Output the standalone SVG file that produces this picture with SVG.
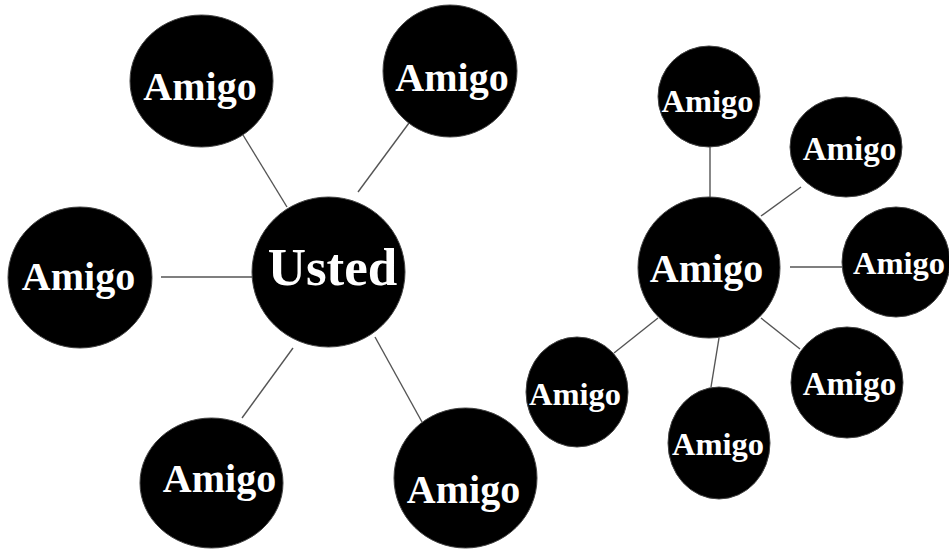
<svg xmlns="http://www.w3.org/2000/svg" width="949" height="550" viewBox="0 0 949 550">
<style>
.n{fill:#000;stroke:#444;stroke-width:1}
.t{fill:#fff;font-family:"Liberation Serif","Times New Roman",serif;font-weight:bold;text-anchor:middle}
.c line{stroke:#555;stroke-width:1.4}
</style>
<rect width="949" height="550" fill="#fff"/>
<g class="c" id="connectors">
<line x1="243" y1="135" x2="287" y2="207"/>
<line x1="409" y1="123" x2="358" y2="192"/>
<line x1="161" y1="277" x2="253" y2="277"/>
<line x1="293" y1="348" x2="242" y2="418"/>
<line x1="375" y1="337" x2="422" y2="422"/>
<line x1="710" y1="147" x2="710" y2="197"/>
<line x1="801" y1="187" x2="761" y2="216"/>
<line x1="790" y1="267" x2="842" y2="267"/>
<line x1="658" y1="318" x2="614" y2="353"/>
<line x1="719" y1="338" x2="711" y2="387"/>
<line x1="761" y1="318" x2="800" y2="349"/>
</g>
<g id="usted"><ellipse class="n" cx="328.5" cy="272" rx="76.5" ry="75"/><text class="t" x="332.5" y="285" font-size="53">Usted</text></g>
<g id="amigo-tl"><ellipse class="n" cx="201.5" cy="81" rx="71.5" ry="66"/><text class="t" x="200" y="100" font-size="40">Amigo</text></g>
<g id="amigo-tr"><ellipse class="n" cx="450" cy="71" rx="67" ry="66"/><text class="t" x="452" y="91" font-size="40">Amigo</text></g>
<g id="amigo-l"><ellipse class="n" cx="80" cy="277.5" rx="72" ry="70.5"/><text class="t" x="78.5" y="290" font-size="40">Amigo</text></g>
<g id="amigo-bl"><ellipse class="n" cx="211.5" cy="483" rx="71.5" ry="65"/><text class="t" x="219.5" y="492" font-size="40">Amigo</text></g>
<g id="amigo-br"><ellipse class="n" cx="465.5" cy="478" rx="71.5" ry="70"/><text class="t" x="463.5" y="503" font-size="40">Amigo</text></g>
<g id="amigo-hub"><ellipse class="n" cx="709" cy="267.5" rx="71" ry="70.5"/><text class="t" x="706.5" y="282" font-size="40">Amigo</text></g>
<g id="amigo-hub-t"><ellipse class="n" cx="709" cy="96.5" rx="51" ry="50.5"/><text class="t" x="707.5" y="112" font-size="32.5">Amigo</text></g>
<g id="amigo-hub-tr"><ellipse class="n" cx="846" cy="147" rx="56" ry="50"/><text class="t" x="849.5" y="160" font-size="33">Amigo</text></g>
<g id="amigo-hub-r"><ellipse class="n" cx="896" cy="262" rx="54" ry="55"/><text class="t" x="899" y="274" font-size="32.5">Amigo</text></g>
<g id="amigo-hub-br"><ellipse class="n" cx="847" cy="382.5" rx="56" ry="55.5"/><text class="t" x="849.5" y="395" font-size="33">Amigo</text></g>
<g id="amigo-hub-b"><ellipse class="n" cx="719" cy="443" rx="51" ry="56"/><text class="t" x="718" y="455" font-size="32.5">Amigo</text></g>
<g id="amigo-hub-bl"><ellipse class="n" cx="577" cy="392" rx="51" ry="55"/><text class="t" x="575" y="405" font-size="32.5">Amigo</text></g>
</svg>
